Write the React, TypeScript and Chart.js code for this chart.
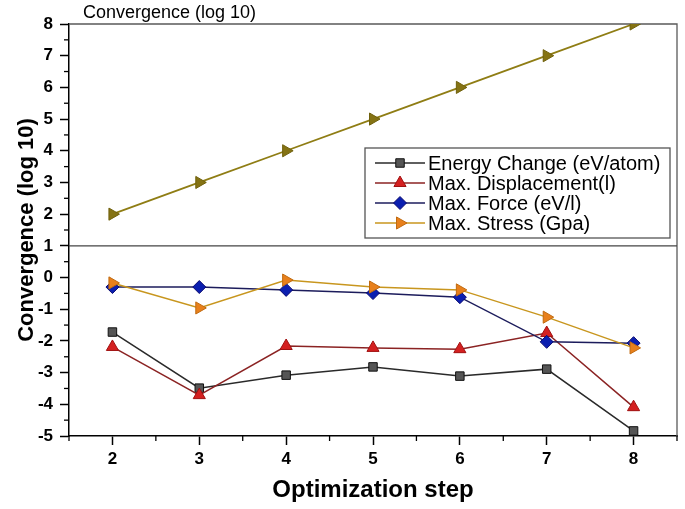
import React, { useEffect, useRef } from 'react';
import { Chart, registerables } from 'chart.js';
import { drawPoint } from 'chart.js/helpers';

Chart.register(...registerables);

// ---- data ----
const steps = [2, 3, 4, 5, 6, 7, 8];
const energyChange = [-1.72, -3.49, -3.08, -2.82, -3.11, -2.89, -4.84];
const maxDisplacement = [-2.19, -3.71, -2.16, -2.22, -2.26, -1.75, -4.09];
const maxForce = [-0.3, -0.3, -0.39, -0.49, -0.62, -2.03, -2.07];
const maxStress = [-0.17, -0.96, -0.08, -0.3, -0.39, -1.25, -2.22];
const convergenceTop = [2, 3, 4, 5, 6, 7, 8];
const seriesLabels = [
  'Energy Change (eV/atom)',
  'Max. Displacement(l)',
  'Max. Force (eV/l)',
  'Max. Stress (Gpa)',
];
const topTitle = 'Convergence (log 10)';
const yAxisTitle = 'Convergence (log 10)';
const xAxisTitle = 'Optimization step';
const yMin = -5;
const yMax = 8;
const xMin = 1.5;
const xMax = 8.5;
const dividerValue = 1;

const FONT = '"Liberation Sans", Arial, sans-serif';

const pts = (arr: number[]) => steps.map((s, i) => ({ x: s, y: arr[i] }));

const decorPlugin = {
  id: 'decor',
  beforeDatasetsDraw(chart: any) {
    const { ctx, chartArea, scales } = chart;
    const { left, right, top, bottom } = chartArea;
    ctx.save();
    ctx.strokeStyle = '#5a5a5a';
    ctx.lineWidth = 1.3;
    ctx.beginPath();
    ctx.moveTo(left, top);
    ctx.lineTo(right, top);
    ctx.lineTo(right, bottom);
    ctx.stroke();
    const yd = scales.y.getPixelForValue(dividerValue);
    ctx.strokeStyle = '#444';
    ctx.beginPath();
    ctx.moveTo(left, yd);
    ctx.lineTo(right, yd);
    ctx.stroke();
    ctx.restore();
  },
  afterDraw(chart: any) {
    const { ctx, chartArea, scales } = chart;
    const { left, top, bottom } = chartArea;
    ctx.save();
    // minor ticks
    ctx.strokeStyle = '#000';
    ctx.lineWidth = 1.3;
    for (let v = xMin; v <= xMax + 1e-9; v += 1) {
      const px = scales.x.getPixelForValue(v);
      ctx.beginPath();
      ctx.moveTo(px, bottom);
      ctx.lineTo(px, bottom + 5);
      ctx.stroke();
    }
    for (let v = yMin + 0.5; v < yMax; v += 1) {
      const py = scales.y.getPixelForValue(v);
      ctx.beginPath();
      ctx.moveTo(left, py);
      ctx.lineTo(left - 5, py);
      ctx.stroke();
    }
    // top title
    ctx.fillStyle = '#000';
    ctx.font = `18px ${FONT}`;
    ctx.textAlign = 'left';
    ctx.textBaseline = 'middle';
    ctx.fillText(topTitle, left + 14, top - 11);

    // legend
    const bx = left + 296;
    const by = top + 124;
    const bw = 305;
    const bh = 90;
    ctx.fillStyle = '#fff';
    ctx.fillRect(bx, by, bw, bh);
    ctx.strokeStyle = '#555';
    ctx.lineWidth = 1.3;
    ctx.strokeRect(bx, by, bw, bh);
    ctx.font = `20px ${FONT}`;
    for (let i = 0; i < seriesLabels.length; i++) {
      const ds = chart.data.datasets[i];
      const cy = by + 15 + i * 20;
      ctx.strokeStyle = ds.borderColor;
      ctx.lineWidth = 1.5;
      ctx.beginPath();
      ctx.moveTo(bx + 10, cy);
      ctx.lineTo(bx + 60, cy);
      ctx.stroke();
      ctx.fillStyle = ds.pointBackgroundColor;
      ctx.strokeStyle = ds.pointBorderColor;
      ctx.lineWidth = 1;
      drawPoint(ctx, {
        pointStyle: ds.pointStyle,
        rotation: ds.pointRotation || 0,
        radius: ds.pointRadius,
        borderWidth: 1,
      } as any, bx + 35, cy);
      ctx.fillStyle = '#000';
      ctx.textAlign = 'left';
      ctx.textBaseline = 'middle';
      ctx.fillText(seriesLabels[i], bx + 63, cy + 1);
    }
    ctx.restore();
  },
};

export default function App() {
  const ref = useRef<HTMLCanvasElement>(null);
  useEffect(() => {
    if (!ref.current) return;
    const chart = new Chart(ref.current, {
      type: 'line',
      data: {
        datasets: [
          {
            label: seriesLabels[0],
            data: pts(energyChange),
            borderColor: '#2a2a2a',
            borderWidth: 1.5,
            pointStyle: 'rect',
            pointRadius: 6,
            pointBackgroundColor: '#555555',
            pointBorderColor: '#111111',
            pointBorderWidth: 1,
            order: 3,
          },
          {
            label: seriesLabels[1],
            data: pts(maxDisplacement),
            borderColor: '#8b2323',
            borderWidth: 1.5,
            pointStyle: 'triangle',
            pointRadius: 7,
            pointBackgroundColor: '#d42020',
            pointBorderColor: '#a01010',
            pointBorderWidth: 1,
            order: 2,
          },
          {
            label: seriesLabels[2],
            data: pts(maxForce),
            borderColor: '#1c1c5c',
            borderWidth: 1.5,
            pointStyle: 'rectRot',
            pointRadius: 6.5,
            pointBackgroundColor: '#0b1fb0',
            pointBorderColor: '#0a0a70',
            pointBorderWidth: 1,
            order: 1,
          },
          {
            label: seriesLabels[3],
            data: pts(maxStress),
            borderColor: '#c8961e',
            borderWidth: 1.5,
            pointStyle: 'triangle',
            pointRotation: 90,
            pointRadius: 7,
            pointBackgroundColor: '#e8801c',
            pointBorderColor: '#c06a10',
            pointBorderWidth: 1,
            order: 0,
          },
          {
            label: topTitle,
            data: pts(convergenceTop),
            borderColor: '#8f7d14',
            borderWidth: 1.8,
            pointStyle: 'triangle',
            pointRotation: 90,
            pointRadius: 7,
            pointBackgroundColor: '#857314',
            pointBorderColor: '#6f600c',
            pointBorderWidth: 1,
            order: 4,
          },
        ] as any,
      },
      options: {
        animation: false,
        responsive: false,
        maintainAspectRatio: false,
        layout: { padding: { top: 24, right: 8, left: 0, bottom: 0 } },
        plugins: {
          legend: { display: false },
          tooltip: { enabled: false },
          title: { display: false },
        },
        scales: {
          x: {
            type: 'linear',
            min: xMin,
            max: xMax,
            afterBuildTicks: (axis: any) => {
              axis.ticks = steps.map((v) => ({ value: v }));
            },
            afterFit: (scale: any) => {
              scale.height = 73;
            },
            grid: {
              drawOnChartArea: false,
              drawTicks: true,
              tickLength: 9,
              tickColor: '#000',
              tickWidth: 1.5,
            },
            border: { display: true, color: '#000', width: 1.5 },
            ticks: {
              color: '#000',
              padding: 4,
              font: { family: FONT, size: 17, weight: 'bold' },
              maxRotation: 0,
            },
            title: {
              display: true,
              text: xAxisTitle,
              color: '#000',
              font: { family: FONT, size: 24, weight: 'bold' },
              padding: { top: 0, bottom: 4 },
            },
          },
          y: {
            type: 'linear',
            min: yMin,
            max: yMax,
            afterFit: (scale: any) => {
              scale.width = 69;
            },
            grid: {
              drawOnChartArea: false,
              drawTicks: true,
              tickLength: 9,
              tickColor: '#000',
              tickWidth: 1.5,
            },
            border: { display: true, color: '#000', width: 1.5 },
            ticks: {
              stepSize: 1,
              color: '#000',
              padding: 7,
              font: { family: FONT, size: 17, weight: 'bold' },
            },
            title: {
              display: true,
              text: yAxisTitle,
              color: '#000',
              font: { family: FONT, size: 22, weight: 'bold' },
              padding: { top: 14, bottom: 0 },
            },
          },
        },
      } as any,
      plugins: [decorPlugin],
    });
    return () => chart.destroy();
  }, []);
  return (
    <div style={{ position: 'fixed', left: 0, top: 0, width: 685, height: 509, background: '#fff' }}>
      <canvas ref={ref} width={685} height={509} />
    </div>
  );
}
